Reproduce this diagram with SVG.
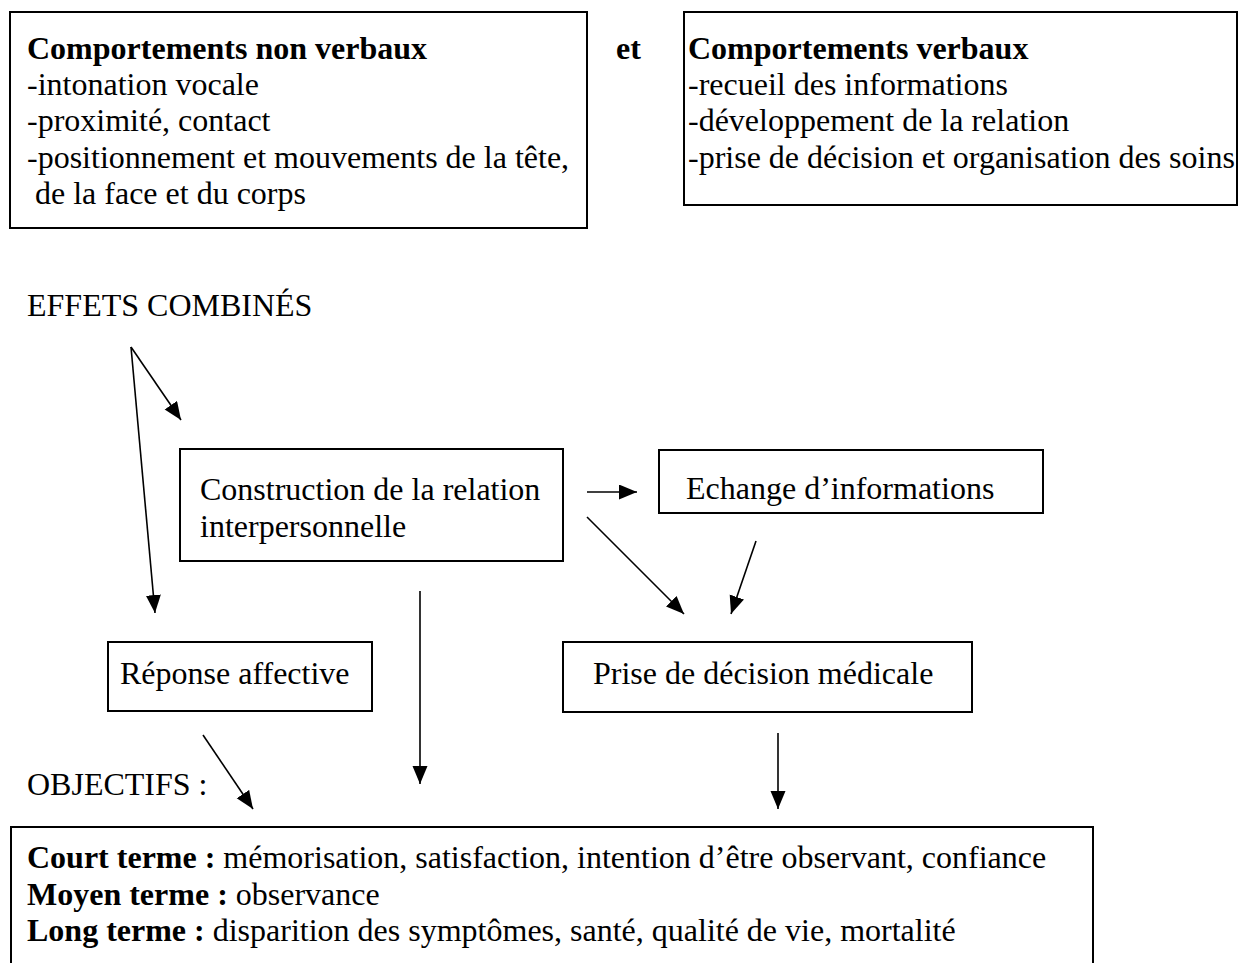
<svg xmlns="http://www.w3.org/2000/svg" width="1244" height="963" viewBox="0 0 1244 963">
<style>
text{font-family:"Liberation Serif","Times New Roman",serif;font-size:32px;fill:#000}
.b{font-weight:bold}
.box{fill:#fff;stroke:#000;stroke-width:2}
.con line{stroke:#000;stroke-width:1.6;fill:none}
</style>
<defs>
<marker id="ah" markerUnits="userSpaceOnUse" markerWidth="20" markerHeight="16" refX="18" refY="7.5" orient="auto">
<path d="M0,0 L18,7.5 L0,15 z" fill="#000"/>
</marker>
</defs>
<rect width="1244" height="963" fill="#fff"/>
<g id="nonverbaux">
<rect class="box" x="10" y="12" width="577" height="216"/>
<text class="b" x="27" y="59">Comportements non verbaux</text>
<text x="27" y="95">-intonation vocale</text>
<text x="27" y="131">-proximité, contact</text>
<text x="27" y="168">-positionnement et mouvements de la tête,</text>
<text x="35" y="204">de la face et du corps</text>
</g>
<text id="et" class="b" x="616" y="59">et</text>
<g id="verbaux">
<rect class="box" x="684" y="12" width="553" height="193"/>
<text class="b" x="688" y="59">Comportements verbaux</text>
<text x="688" y="95">-recueil des informations</text>
<text x="688" y="131">-développement de la relation</text>
<text x="688" y="168">-prise de décision et organisation des soins</text>
</g>
<text id="effets" x="27" y="316">EFFETS COMBINÉS</text>
<g id="construction">
<rect class="box" x="180" y="449" width="383" height="112"/>
<text x="200" y="500">Construction de la relation</text>
<text x="200" y="537">interpersonnelle</text>
</g>
<g id="echange">
<rect class="box" x="659" y="450" width="384" height="63"/>
<text x="686" y="499">Echange d’informations</text>
</g>
<g id="reponse">
<rect class="box" x="108" y="642" width="264" height="69"/>
<text x="120" y="684">Réponse affective</text>
</g>
<g id="prise">
<rect class="box" x="563" y="642" width="409" height="70"/>
<text x="593" y="684">Prise de décision médicale</text>
</g>
<text id="objectifs" x="27" y="795">OBJECTIFS :</text>
<g id="objectifs-box">
<rect class="box" x="11" y="827" width="1082" height="160"/>
<text x="27" y="868"><tspan class="b">Court terme :</tspan> mémorisation, satisfaction, intention d’être observant, confiance</text>
<text x="27" y="905"><tspan class="b">Moyen terme :</tspan> observance</text>
<text x="27" y="941"><tspan class="b">Long terme :</tspan> disparition des symptômes, santé, qualité de vie, mortalité</text>
</g>
<g id="connectors" class="con">
<line x1="131" y1="347" x2="181" y2="420" marker-end="url(#ah)"/>
<line x1="131" y1="347" x2="155" y2="613" marker-end="url(#ah)"/>
<line x1="587" y1="492" x2="637" y2="492" marker-end="url(#ah)"/>
<line x1="587" y1="517" x2="684" y2="614" marker-end="url(#ah)"/>
<line x1="756" y1="541" x2="731" y2="614" marker-end="url(#ah)"/>
<line x1="420" y1="591" x2="420" y2="784" marker-end="url(#ah)"/>
<line x1="203" y1="735" x2="253" y2="809" marker-end="url(#ah)"/>
<line x1="778" y1="733" x2="778" y2="809" marker-end="url(#ah)"/>
</g>
</svg>
